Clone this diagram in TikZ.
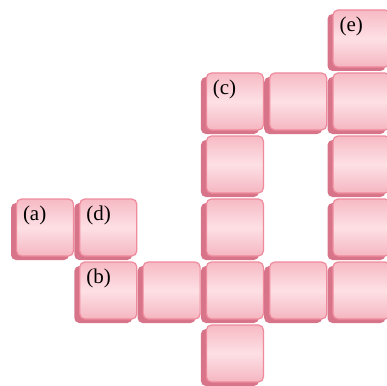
\documentclass[tikz,border=0pt]{standalone}
\usepackage{fontspec}
\setmainfont{Liberation Serif}
\definecolor{tbase}{HTML}{D8748A}
\definecolor{tedge}{HTML}{EE8A9C}
\definecolor{ttop}{HTML}{F7BAC4}
\definecolor{tmid}{HTML}{FDE0E5}
\definecolor{tbot}{HTML}{F5B6C1}
\tikzset{
  basebox/.style={rectangle, rounded corners=5pt, fill=tbase, draw=none,
    minimum width=58pt, minimum height=57pt, inner sep=0pt, outer sep=0pt},
  facebox/.style={rectangle, rounded corners=5pt, draw=tedge, line width=1.2pt,
    top color=ttop, bottom color=tbot, middle color=tmid,
    minimum width=57pt, minimum height=57pt, inner sep=0pt, outer sep=0pt},
  tilelabel/.style={inner sep=0pt, outer sep=0pt, font=\fontsize{21}{24}\selectfont, anchor=base west}
}
\begin{document}
\begin{tikzpicture}[x=1pt,y=-1pt]
\useasboundingbox (0,0) rectangle (387,385);
\clip (0,0) rectangle (387,385);
\foreach \c/\r/\lab in {5/0/(e), 3/1/(c), 4/1/, 5/1/, 3/2/, 5/2/, 0/3/(a), 1/3/(d), 3/3/, 5/3/, 1/4/(b), 2/4/, 3/4/, 4/4/, 5/4/, 3/5/}{
  \pgfmathsetmacro{\cx}{45+63.3*\c}
  \pgfmathsetmacro{\cy}{38.5+63*\r}
  \node[basebox] (b\c\r) at (\cx-5,\cy+4) {};
  \node[facebox] (f\c\r) at (\cx,\cy) {};
  \node[tilelabel] (l\c\r) at (\cx-22,\cy-7) {\lab};
}
\end{tikzpicture}
\end{document}
